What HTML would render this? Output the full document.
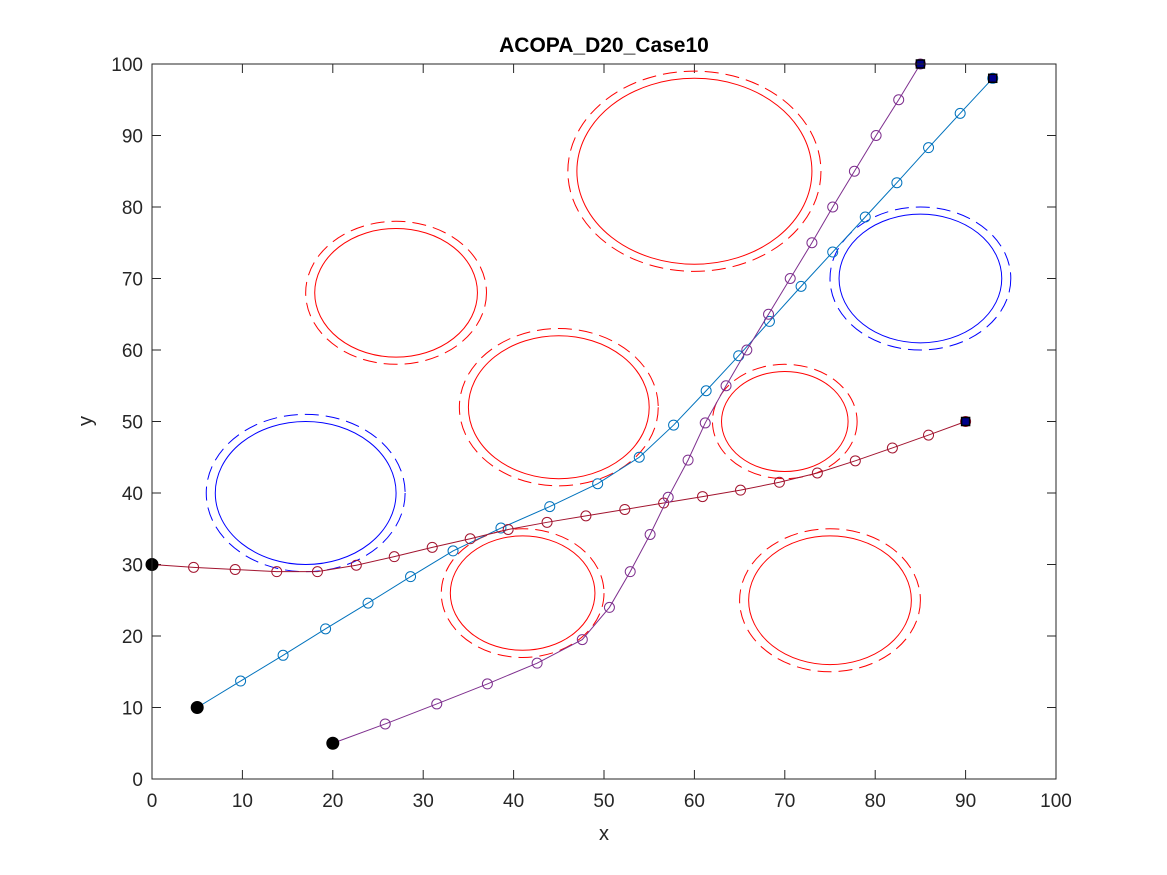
<!DOCTYPE html>
<html><head><meta charset="utf-8"><style>
body{margin:0;background:#fff}
svg{display:block;font-family:"Liberation Sans",sans-serif}
</style></head><body>
<svg id="chart" width="1167" height="875" viewBox="0 0 1167 875">
<rect width="1167" height="875" fill="#fff"/>
<rect x="152" y="64" width="904" height="715" fill="#fff" stroke="none"/>
<g id="grid"></g>
<g id="shapes"></g>
<g id="series"></g>
<rect x="152" y="64" width="904" height="715" fill="none" stroke="#262626" stroke-width="1"/>
<text x="604" y="52" text-anchor="middle" font-size="21" font-weight="bold" fill="#000">ACOPA_D20_Case10</text>
<text x="604" y="840" text-anchor="middle" font-size="20" fill="#262626">x</text>
<text x="92" y="421" text-anchor="middle" font-size="20" fill="#262626" transform="rotate(-90 92 421)">y</text>
</svg>
<script>
const xTicks=[0,10,20,30,40,50,60,70,80,90,100];
const yTicks=[0,10,20,30,40,50,60,70,80,90,100];
const redCx=[27,60,45,70,41,75];
const redCy=[68,85,52,50,26,25];
const redR=[9,13,10,7,8,9];
const blueCx=[17,85];
const blueCy=[40,70];
const blueR=[10,9];
const blueX=[5,9.8,14.5,19.2,23.9,28.6,33.3,38.6,44,49.3,53.9,57.7,61.3,64.9,68.3,71.8,75.3,78.9,82.4,85.9,89.4,93];
const blueY=[10,13.7,17.3,21,24.6,28.3,31.9,35.1,38.1,41.3,45,49.5,54.3,59.2,64,68.9,73.7,78.6,83.4,88.3,93.1,98];
const purpleX=[20,25.8,31.5,37.1,42.6,47.6,50.6,52.9,55.1,57.1,59.3,61.2,63.5,65.8,68.2,70.6,73,75.3,77.7,80.1,82.6,85];
const purpleY=[5,7.7,10.5,13.3,16.2,19.5,24,29,34.2,39.4,44.6,49.8,55,60,65,70,75,80,85,90,95,100];
const redX=[0,4.6,9.2,13.8,18.3,22.6,26.8,31,35.2,39.4,43.7,48,52.3,56.6,60.9,65.1,69.4,73.6,77.8,81.9,85.9,90];
const redY=[30,29.6,29.3,29,29,29.9,31.1,32.4,33.6,34.9,35.9,36.8,37.7,38.6,39.5,40.4,41.5,42.8,44.5,46.3,48.1,50];
const NS='http://www.w3.org/2000/svg';
const X0=152,X1=1056,Y0=779,Y1=64;
const sx=v=>X0+(v/100)*(X1-X0);
const sy=v=>Y0-(v/100)*(Y0-Y1);
const kx=(X1-X0)/100, ky=(Y0-Y1)/100;
function mk(tag,attrs,parent){const e=document.createElementNS(NS,tag);for(const k in attrs)e.setAttribute(k,attrs[k]);parent.appendChild(e);return e;}
const grid=document.getElementById('grid');
xTicks.forEach(t=>{
  const x=sx(t);
  const a=mk('line',{x1:x,x2:x,y1:Y0,y2:Y0-9,stroke:'#262626'},grid);
  
  
  const b=mk('line',{x1:x,x2:x,y1:Y1,y2:Y1+9,stroke:'#262626'},grid);
  
  
  const l=mk('text',{x:x,y:Y0+28,'text-anchor':'middle','font-size':19,fill:'#262626'},grid);
  l.textContent=t;
  
  
});
yTicks.forEach(t=>{
  const y=sy(t);
  const a=mk('line',{x1:X0,x2:X0+9,y1:y,y2:y,stroke:'#262626'},grid);
  
  
  const b=mk('line',{x1:X1,x2:X1-9,y1:y,y2:y,stroke:'#262626'},grid);
  
  
  const l=mk('text',{x:X0-9,y:y+7,'text-anchor':'end','font-size':19,fill:'#262626'},grid);
  l.textContent=t;
  
  
});
const shapes=document.getElementById('shapes');
function circ(cx,cy,r,color,name){
  const s=mk('ellipse',{cx:sx(cx),cy:sy(cy),rx:r*kx,ry:r*ky,fill:'none',stroke:color,'stroke-width':1},shapes);
  
  
  const d=mk('ellipse',{cx:sx(cx),cy:sy(cy),rx:(r+1)*kx,ry:(r+1)*ky,fill:'none',stroke:color,'stroke-width':1,'stroke-dasharray':'14,7'},shapes);
  
  
}
redCx.forEach((c,i)=>circ(c,redCy[i],redR[i],'#ff0000','red'));
blueCx.forEach((c,i)=>circ(c,blueCy[i],blueR[i],'#0000ff','blue'));
const ser=document.getElementById('series');
function path(xs,ys,color,name){
  const p=mk('polyline',{points:xs.map((x,i)=>sx(x)+','+sy(ys[i])).join(' '),fill:'none',stroke:color,'stroke-width':1},ser);
  
  
  xs.forEach((x,i)=>{
    const m=mk('circle',{cx:sx(x),cy:sy(ys[i]),r:5,fill:'none',stroke:color,'stroke-width':1},ser);
    
    
  });
  const n=xs.length-1;
  const st=mk('circle',{cx:sx(xs[0]),cy:sy(ys[0]),r:6,fill:'#000',stroke:'#000'},ser);
  
  
  const en=mk('rect',{x:sx(xs[n])-4,y:sy(ys[n])-4,width:8,height:8,fill:'#00008b',stroke:'#000','stroke-width':1.5},ser);
  
  
}
path(blueX,blueY,'#0072BD','blue');
path(redX,redY,'#A2142F','red');
path(purpleX,purpleY,'#7E2F8E','purple');
</script>
</body></html>
